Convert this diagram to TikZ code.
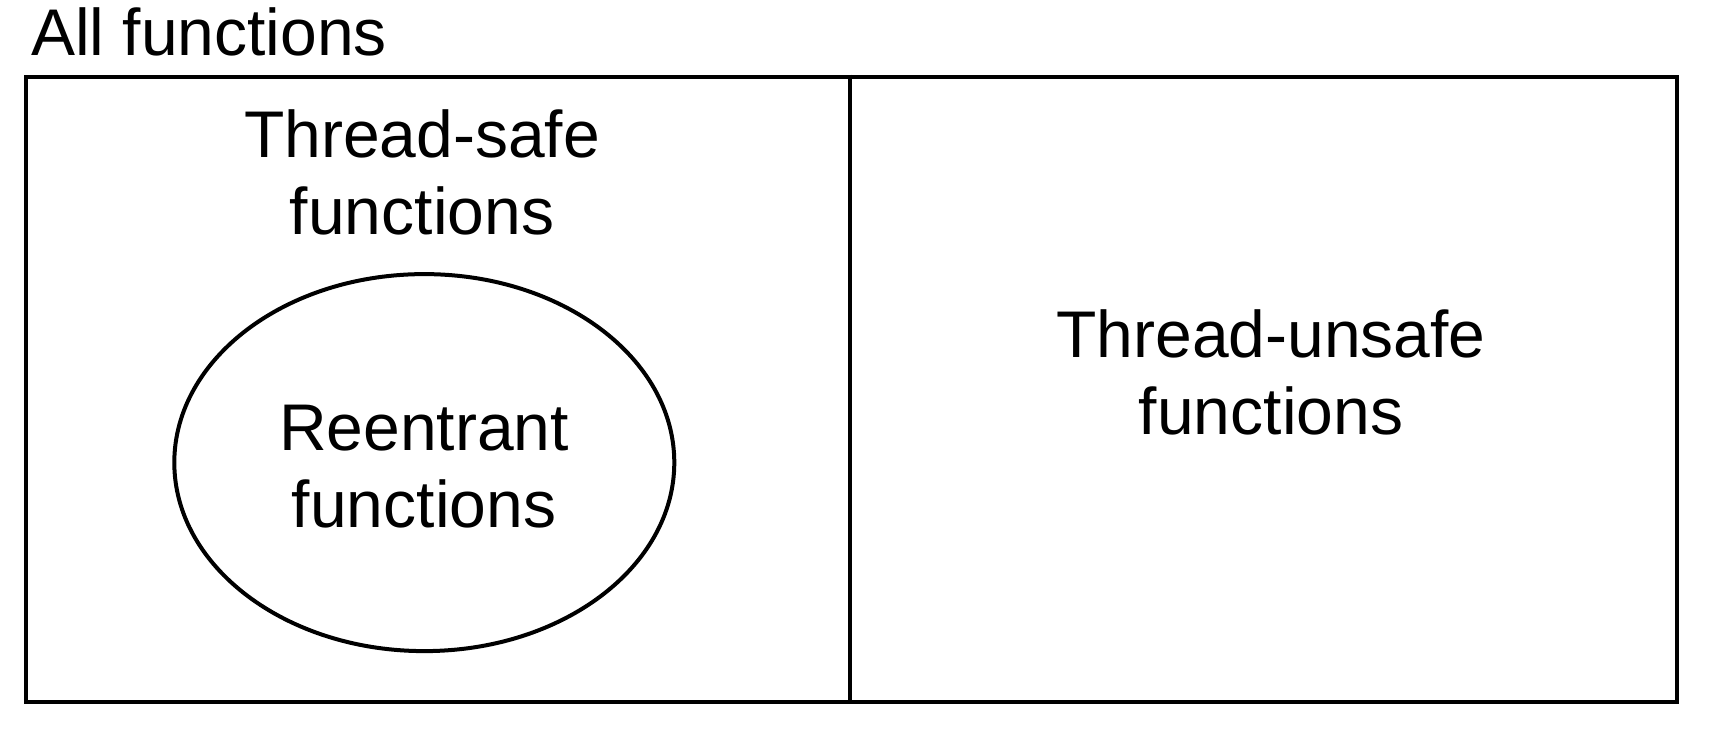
\documentclass[tikz,border=0pt]{standalone}
\usepackage{fontspec}
\setmainfont{Liberation Sans}
\usetikzlibrary{shapes.geometric}
\begin{document}
\begin{tikzpicture}[x=1pt,y=-1pt,
  lbl/.style={font=\fontsize{66}{77}\selectfont, inner sep=0pt, align=center, anchor=base},
  frame/.style={draw=black, line width=4pt}]
\useasboundingbox (0,0) rectangle (1719,753);
\node[lbl, anchor=base west] (all) at (31,55) {All functions};
\node[frame, rectangle, minimum width=1651pt, minimum height=625pt, anchor=north west, inner sep=0pt] (box) at (24,74.5) {};
\coordinate (dtop) at (849.6,74.5);
\coordinate (dbot) at (849.6,699.5);
\draw[frame] (dtop) -- (dbot);
\node[lbl] (safe) at (422,234) {Thread-safe\\functions};
\node[frame, ellipse, minimum width=500pt, minimum height=377pt, inner sep=0pt] (re) at (424.3,462.6) {};
\node[lbl] (ret) at (424,527) {Reentrant\\functions};
\node[lbl] (unsafe) at (1271,434) {Thread-unsafe\\functions};
\end{tikzpicture}
\end{document}
